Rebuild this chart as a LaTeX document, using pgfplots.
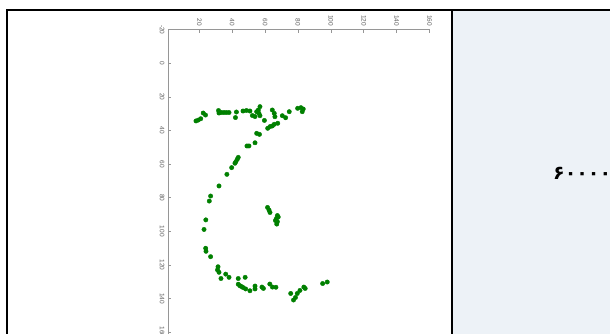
\documentclass[border=0pt]{standalone}
\usepackage{pgfplots}
\pgfplotsset{compat=1.18}
\usepackage{fontspec}
\setmainfont{Liberation Sans}
\newfontfamily\tickfont{Liberation Sans}
\newfontfamily\arabicfont[Script=Arabic]{DejaVu Sans}
\definecolor{ptgreen}{RGB}{0,128,0}
\definecolor{panelbg}{RGB}{237,242,247}
\definecolor{axgray}{RGB}{150,150,150}
\definecolor{lblgray}{RGB}{95,95,95}
\pgfplotstableread{
x y
18.0 34.3
19.4 33.8
20.9 33.0
22.4 29.6
23.8 30.8
31.7 28.1
32.0 29.6
33.5 29.3
35.0 29.3
36.5 29.3
38.1 29.3
42.0 32.3
42.6 29.0
46.6 28.4
48.7 28.1
50.8 28.4
52.3 31.1
53.9 31.7
54.9 28.8
55.9 27.8
56.9 25.8
56.3 29.8
56.9 31.2
59.6 34.0
64.4 27.8
65.6 29.8
66.0 31.8
61.6 38.7
63.0 37.7
64.4 37.3
65.6 36.3
67.7 35.7
70.5 31.2
72.5 32.4
74.7 28.8
79.8 26.8
81.8 26.4
83.2 27.2
82.6 28.8
54.9 41.7
56.6 42.3
53.9 47.3
49.0 49.2
50.2 49.2
43.7 56.0
43.1 57.1
42.3 58.5
41.7 59.5
39.7 62.1
36.8 66.1
32.0 73.0
26.9 79.0
26.1 82.0
24.0 93.2
22.9 98.9
23.9 110.1
24.1 111.9
26.9 115.1
31.4 121.1
31.1 123.0
32.0 124.4
33.2 128.1
36.1 125.5
38.1 127.4
43.7 128.1
47.9 127.4
43.7 131.5
44.7 132.4
45.7 132.9
46.7 133.5
48.2 134.3
50.8 135.4
53.9 132.6
53.9 134.3
58.1 133.2
59.0 134.0
62.9 131.4
64.5 133.2
66.6 133.3
75.6 137.0
77.3 140.9
78.5 139.4
79.6 137.0
81.2 135.2
83.6 133.2
84.4 134.0
95.0 131.1
97.8 130.2
61.5 85.8
62.4 87.3
63.0 88.8
67.5 90.6
68.0 91.5
66.9 92.4
66.3 93.6
67.5 94.3
67.1 95.7
}\pts
\begin{document}
\begin{tikzpicture}[x=1pt,y=1pt]
\clip (0,0) rectangle (610,334);
\fill[white] (0,0) rectangle (610,334);
\fill[panelbg] (453,0) rectangle (610,323);
\draw[black, line width=2pt] (7,0) -- (7,323.7) -- (610,323.7);
\draw[black, line width=2pt] (452,0) -- (452,323.7);
\node[anchor=base west, inner sep=0pt] at (553,154) {\arabicfont\bfseries\fontsize{19}{21}\selectfont ۶۰۰۰۰۰۰۰};
\begin{axis}[
  at={(168pt,304.3pt)}, anchor=north west,
  x=1.645pt, y=1.68pt, y dir=reverse,
  xmin=1, xmax=160, ymin=-20, ymax=162,
  axis x line*=top, axis y line*=left,
  axis line style={axgray, line width=1pt},
  xtick={20,40,...,160}, ytick={-20,0,...,160},
  tick align=inside, major tick length=3pt,
  tick style={axgray, line width=0.7pt},
  /pgf/number format/assume math mode=true,
  ticklabel style={font=\tickfont\fontsize{6.5}{7}\selectfont, text=lblgray},
  xticklabel style={rotate=-90, anchor=east},
  yticklabel style={rotate=-90, anchor=north},
  clip=false,
]
\addplot[only marks, mark=*, mark size=2.2pt, color=ptgreen, fill=ptgreen] table[x=x,y=y] {\pts};
\end{axis}
\end{tikzpicture}
\end{document}
